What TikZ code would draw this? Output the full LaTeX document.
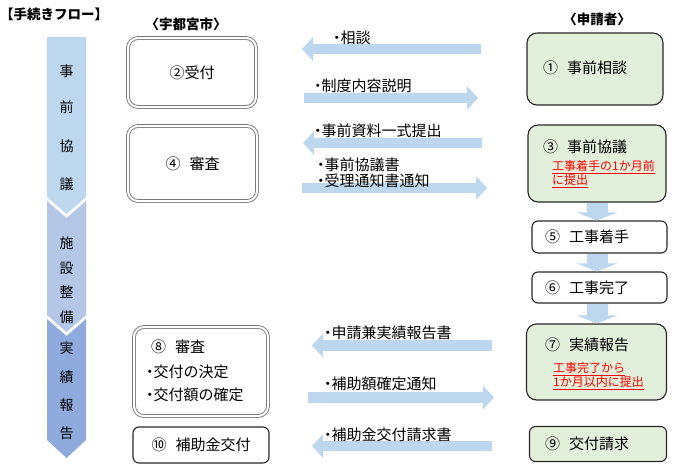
\documentclass[tikz,border=0pt]{standalone}
\usepackage{fontspec}
\setmainfont{Noto Sans CJK JP}
\usetikzlibrary{arrows.meta}
\definecolor{arrowblue}{HTML}{BDD7EE}
\definecolor{segA}{HTML}{BDD7EE}
\definecolor{segB}{HTML}{B4C7E7}
\definecolor{segC}{HTML}{8FAADC}
\definecolor{boxgreen}{HTML}{E2EFDA}
\definecolor{dgray}{HTML}{7A7A7A}
\newcommand{\nakaguro}{\makebox[0.5em]{・}}
\newcommand{\redline}[1]{\underline{#1}}
\begin{document}
\begin{tikzpicture}[x=1pt,y=-1pt,
  cityBox/.style={draw=dgray, double=white, double distance=2pt, line width=0.9pt, rounded corners=10pt, inner sep=0pt, font=\fontsize{15}{17}\selectfont},
  plainBox/.style={draw=black!85, line width=1.1pt, rounded corners=6pt, inner sep=0pt, font=\fontsize{15}{17}\selectfont},
  greenBox/.style={plainBox, fill=boxgreen, rounded corners=10pt},
  harr/.style={draw=arrowblue, line width=10.5pt, -{Triangle[length=11pt,width=23pt]}},
  varr/.style={draw=arrowblue, line width=21pt, -{Triangle[length=8pt,width=40pt]}},
  lbl/.style={anchor=west, inner sep=0pt, font=\fontsize{15}{17}\selectfont},
  ttl/.style={anchor=west, inner sep=0pt, font=\fontsize{15}{17}\selectfont},
  redtxt/.style={anchor=west, inner sep=0pt, text=red, font=\fontsize{12}{13}\selectfont},
  coltxt/.style={inner sep=0pt, font=\fontsize{14}{14}\selectfont},
  head/.style={inner sep=0pt, font=\fontsize{13.5}{15}\selectfont\bfseries}]
\useasboundingbox (0,0) rectangle (690,471);

% headings
\node[head, anchor=west] (title) at (0,14) {【手続きフロー】};
\node[head] (hcity) at (186,24) {〈宇都宮市〉};
\node[head] (happ) at (597,19) {〈申請者〉};

% left phase column
\fill[segA] (47,37) -- (86,37) -- (86,197) -- (66.5,214) -- (47,197) -- cycle;
\fill[segB] (47,201) -- (66.5,218) -- (86,201) -- (86,315) -- (66.5,332) -- (47,315) -- cycle;
\fill[segC] (47,319) -- (66.5,336) -- (86,319) -- (86,440) -- (66.5,458) -- (47,440) -- cycle;
\node[coltxt] (c1) at (66.5,71) {事};
\node[coltxt] (c2) at (66.5,107) {前};
\node[coltxt] (c3) at (66.5,146) {協};
\node[coltxt] (c4) at (66.5,184) {議};
\node[coltxt] (c5) at (66.5,243) {施};
\node[coltxt] (c6) at (66.5,268) {設};
\node[coltxt] (c7) at (66.5,292) {整};
\node[coltxt] (c8) at (66.5,317) {備};
\node[coltxt] (c9) at (66.5,348) {実};
\node[coltxt] (c10) at (66.5,377) {績};
\node[coltxt] (c11) at (66.5,405) {報};
\node[coltxt] (c12) at (66.5,433) {告};

% city boxes
\node[cityBox, minimum width=128pt, minimum height=69pt] (n2) at (192,72.5) {②受付};
\node[cityBox, minimum width=129pt, minimum height=75pt] (n4) at (192.5,163.5) {④\hspace{0.6em}審査};
\node[cityBox, minimum width=134pt, minimum height=89pt] (n8) at (201,371.5) {};
\node[ttl] (n8a) at (151,347) {⑧\hspace{0.6em}審査};
\node[ttl] (n8b) at (146,372) {\nakaguro 交付の決定};
\node[ttl] (n8c) at (146,395) {\nakaguro 交付額の確定};
\node[plainBox, minimum width=136pt, minimum height=36pt] (n10) at (201,445) {⑩\hspace{0.6em}補助金交付};

% applicant boxes
\node[greenBox, minimum width=136pt, minimum height=72pt] (n1) at (595,69) {};
\node[ttl] (n1t) at (543,68) {①\hspace{0.6em}事前相談};
\node[greenBox, minimum width=138pt, minimum height=77pt] (n3) at (597,163.5) {};
\node[ttl] (n3t) at (543,147) {③\hspace{0.6em}事前協議};
\node[redtxt] (n3r1) at (552,167) {\redline{工事着手の1か月前}};
\node[redtxt] (n3r2) at (552,181) {\redline{に提出}};
\node[plainBox, minimum width=135pt, minimum height=32pt] (n5) at (599.5,237) {};
\node[ttl] (n5t) at (545,237) {⑤\hspace{0.6em}工事着手};
\node[plainBox, minimum width=135pt, minimum height=31pt] (n6) at (599.5,287.5) {};
\node[ttl] (n6t) at (545,288) {⑥\hspace{0.6em}工事完了};
\node[greenBox, minimum width=140pt, minimum height=76pt] (n7) at (596.5,362) {};
\node[ttl] (n7t) at (545,345) {⑦\hspace{0.6em}実績報告};
\node[redtxt] (n7r1) at (553,369) {\redline{工事完了から}};
\node[redtxt] (n7r2) at (553,383) {\redline{1か月以内に提出}};
\node[greenBox, rounded corners=6pt, minimum width=137pt, minimum height=35pt] (n9) at (598,444) {};
\node[ttl] (n9t) at (545,444) {⑨\hspace{0.6em}交付請求};

% vertical arrows
\draw[varr] (n3.south) -- (n3.south |- n5.north);
\draw[varr] (n3.south |- n5.south) -- (n3.south |- n6.north);
\draw[varr] (n3.south |- n6.south) -- (n3.south |- n7.north);

% horizontal arrows
\coordinate (a1t) at (481,49);   \coordinate (a1h) at (302,49);
\coordinate (a2t) at (304,98);   \coordinate (a2h) at (478,98);
\coordinate (a3t) at (482,143);  \coordinate (a3h) at (303,143);
\coordinate (a4t) at (302,188);  \coordinate (a4h) at (487,188);
\coordinate (a5t) at (492,345.5);\coordinate (a5h) at (312,345.5);
\coordinate (a6t) at (308,397.5);\coordinate (a6h) at (494,397.5);
\coordinate (a7t) at (492,446);  \coordinate (a7h) at (312,446);
\draw[harr] (a1t) -- (a1h);
\draw[harr] (a2t) -- (a2h);
\draw[harr] (a3t) -- (a3h);
\draw[harr] (a4t) -- (a4h);
\draw[harr] (a5t) -- (a5h);
\draw[harr] (a6t) -- (a6h);
\draw[harr] (a7t) -- (a7h);

\node[lbl] (l1) at (333,38) {\nakaguro 相談};
\node[lbl] (l2) at (314,86) {\nakaguro 制度内容説明};
\node[lbl] (l3) at (314,131) {\nakaguro 事前資料一式提出};
\node[lbl] (l4a) at (317,165) {\nakaguro 事前協議書};
\node[lbl] (l4b) at (317,181) {\nakaguro 受理通知書通知};
\node[lbl] (l5) at (324,333) {\nakaguro 申請兼実績報告書};
\node[lbl] (l6) at (324,384) {\nakaguro 補助額確定通知};
\node[lbl] (l7) at (324,435) {\nakaguro 補助金交付請求書};
\end{tikzpicture}
\end{document}
